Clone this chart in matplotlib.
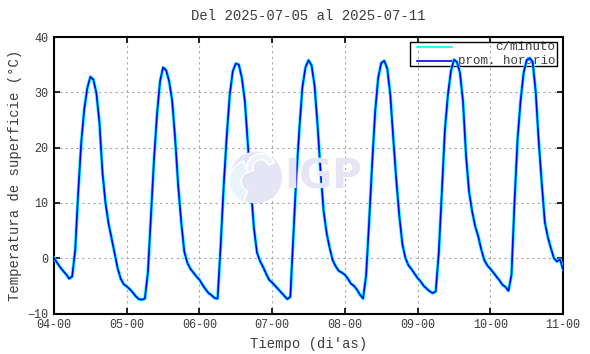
import matplotlib
matplotlib.use("Agg")
import matplotlib.pyplot as plt
from matplotlib.patches import Circle, Rectangle, Wedge
from matplotlib.lines import Line2D

# ---------------- data ----------------
title_text = "Del 2025-07-05 al 2025-07-11"
xtick_labels = ["04-00", "05-00", "06-00", "07-00", "08-00", "09-00", "10-00", "11-00"]
ytick_values = [-10, 0, 10, 20, 30, 40]

# hourly mean surface temperature (°C), hours 0..168 from 04-00
day1 = [0.0, -0.8, -1.6, -2.3, -2.9, -3.7, -3.3, 1.5, 12.0, 21.0, 27.0, 30.8,
        32.8, 32.3, 29.8, 24.5, 15.5, 10.0, 6.3, 3.6, 1.0, -1.8, -3.7, -4.7]
day2 = [-5.1, -5.6, -6.2, -6.9, -7.4, -7.5, -7.3, -2.5, 7.5, 17.8, 26.0, 32.0,
        34.5, 34.0, 32.0, 28.5, 21.5, 13.0, 6.5, 1.2, -0.8, -1.9, -2.6, -3.3]
day3 = [-3.9, -4.8, -5.6, -6.3, -6.7, -7.2, -7.3, 2.2, 13.0, 22.0, 29.5, 33.8,
        35.2, 35.0, 32.6, 28.4, 20.5, 12.5, 5.4, 1.0, -0.5, -1.6, -2.8, -3.9]
day4 = [-4.4, -5.0, -5.6, -6.2, -6.8, -7.4, -7.0, 4.2, 15.0, 23.5, 31.0, 34.5,
        35.8, 34.9, 31.2, 24.0, 15.5, 8.5, 4.5, 1.8, -0.4, -1.5, -2.3, -2.6]
day5 = [-3.0, -3.7, -4.6, -5.0, -5.7, -6.6, -7.3, -3.2, 6.5, 17.0, 26.5, 32.6,
        35.3, 35.7, 34.3, 29.5, 21.5, 14.0, 7.5, 2.5, 0.0, -1.3, -2.0, -2.8]
day6 = [-3.6, -4.2, -5.0, -5.5, -6.0, -6.3, -6.0, 1.0, 11.8, 23.0, 29.5, 33.8,
        35.9, 35.5, 33.5, 28.3, 18.5, 12.0, 8.5, 5.8, 4.0, 1.6, -0.3, -1.3]
day7 = [-1.9, -2.6, -3.3, -4.0, -4.8, -5.2, -5.9, -3.0, 10.2, 21.5, 28.5, 33.5,
        35.8, 36.2, 35.5, 30.0, 21.0, 13.5, 6.5, 3.8, 1.8, 0.0, -0.6, -0.2, -2.0]
temp_hourly = day1 + day2 + day3 + day4 + day5 + day6 + day7
hours = list(range(len(temp_hourly)))

# ---------------- figure ----------------
W, H, DPI = 590, 354, 100
fig = plt.figure(figsize=(W / DPI, H / DPI), dpi=DPI)
L, R, T, B = 54, 563, 37, 313.5
ax = fig.add_axes([L / W, 1 - B / H, (R - L) / W, (B - T) / H])

mono = "Liberation Mono"
txtc = "#3c3c3c"

# watermark (IGP logo, approximate)
wm = "#e5e5f6"
cx, cy, rr = 2.56, (H - 177.5) / DPI, 0.26
fig.patches.append(Circle((cx, cy), rr, transform=fig.dpi_scale_trans,
                          facecolor=wm, edgecolor="none", zorder=0))
fig.patches.append(Wedge((cx - 0.05, cy - 0.04), 0.22, 110, 250, width=0.12,
                         transform=fig.dpi_scale_trans, facecolor="#e9f3fd",
                         edgecolor="white", lw=1.2, zorder=0))
fig.patches.append(Wedge((cx + 0.05, cy + 0.1), 0.14, 20, 200, width=0.06,
                         transform=fig.dpi_scale_trans, facecolor="#eef0fb",
                         edgecolor="white", lw=1.2, zorder=0))
fig.text(323 / W, 1 - 177.5 / H, "IGP", color=wm, fontsize=29, fontweight="bold",
         family="DejaVu Sans", ha="center", va="center", zorder=0)
ax.set_facecolor("none")

# data lines
ax.plot(hours, temp_hourly, color="#00ffff", lw=2.3, solid_joinstyle="round", zorder=3)
ax.plot(hours, temp_hourly, color="#0000ff", lw=1.2, zorder=4)

ax.set_xlim(0, 168)
ax.set_ylim(-10, 40)
ax.set_xticks([24 * i for i in range(len(xtick_labels))])
ax.set_xticklabels(xtick_labels)
ax.set_yticks(ytick_values)

ax.grid(True, color="#a8a8a8", linestyle=(0, (2, 3)), lw=0.8)
ax.tick_params(direction="in", length=4, width=1.2, top=True, right=True,
               labelsize=8.5, labelcolor=txtc, pad=4)
for lab in ax.get_xticklabels() + ax.get_yticklabels():
    lab.set_family(mono)
for s in ax.spines.values():
    s.set_linewidth(1.5)

ax.set_title(title_text, family=mono, fontsize=10, color=txtc, pad=12)
ax.set_xlabel("Tiempo (di'as)", family=mono, fontsize=10, color=txtc, labelpad=4)
ax.set_ylabel("Temperatura de superficie (°C)", family=mono, fontsize=10,
              color=txtc, labelpad=4)

# legend (gnuplot style: sample on the left, text right-aligned)
x0, x1 = (410 - L) / (R - L), (557 - L) / (R - L)
y0, y1 = (B - 66) / (B - T), (B - 41.7) / (B - T)
ax.add_patch(Rectangle((x0, y0), x1 - x0, y1 - y0, transform=ax.transAxes,
                       facecolor="none", edgecolor="black", lw=1.0, zorder=2))
rows = [("c/minuto", "#00ffff", (B - 47.3) / (B - T)),
        ("prom. horario", "#0000ff", (B - 60.7) / (B - T))]
for label, col, yy in rows:
    ax.add_line(Line2D([(417 - L) / (R - L), (452 - L) / (R - L)], [yy, yy],
                       transform=ax.transAxes, color=col, lw=1.2, zorder=2))
    ax.text((555 - L) / (R - L), yy, label, transform=ax.transAxes, ha="right",
            va="center", family=mono, fontsize=9, color=txtc, zorder=2)

fig.savefig("out.png", dpi=DPI)
